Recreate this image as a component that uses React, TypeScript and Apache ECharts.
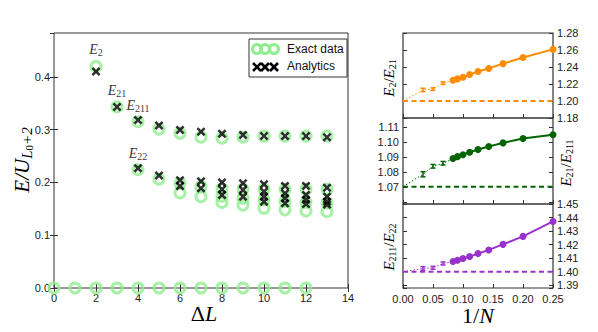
import React, { useEffect, useRef } from 'react';
import * as echarts from 'echarts';

// ---------- Left panel data (E / U_{L0+2} vs ΔL) ----------
const dLZero = [0, 1, 2, 3, 4, 5, 6, 7, 8, 9, 10, 11, 12];
const exactZero = [0, 0, 0, 0, 0, 0, 0, 0, 0, 0, 0, 0, 0];

const dLUpper = [2, 3, 4, 5, 6, 7, 8, 9, 10, 11, 12, 13];
const exactUpper = [0.42, 0.343, 0.315, 0.301, 0.293, 0.2856, 0.2837, 0.2856, 0.2877, 0.2877, 0.2877, 0.2877];
const analyticUpper = [0.41, 0.343, 0.318, 0.3077, 0.2995, 0.296, 0.292, 0.29, 0.288, 0.2877, 0.2877, 0.2856];

const dLLowerA = [4, 5, 6, 7, 8, 9, 10, 11, 12, 13];
const exactLowerA = [0.224, 0.206, 0.198, 0.192, 0.188, 0.187, 0.187, 0.187, 0.187, 0.187];
const analyticLowerA = [0.227, 0.213, 0.204, 0.202, 0.2, 0.1985, 0.1966, 0.1934, 0.1934, 0.19];

const dLLowerB = [6, 7, 8, 9, 10, 11, 12, 13];
const exactLowerB = [0.18, 0.173, 0.174, 0.17, 0.167, 0.164, 0.162, 0.161];
const analyticLowerB = [0.193, 0.189, 0.187, 0.1858, 0.1826, 0.1795, 0.1763, 0.173];

const dLLowerC = [8, 9, 10, 11, 12, 13];
const exactLowerC = [0.162, 0.157, 0.151, 0.148, 0.146, 0.1445];
const analyticLowerC = [0.1763, 0.173, 0.173, 0.17, 0.167, 0.1636];

const dLLowerD = [10, 11, 12, 13];
const analyticLowerD = [0.1636, 0.1605, 0.159, 0.158];

const upperLabels: Record<number, string> = { 2: '2', 3: '21', 4: '211' };
const lowerLabels: Record<number, string> = { 4: '22' };

// ---------- Right panels data (ratios vs 1/N) ----------
const invNErr = [0.0333, 0.05, 0.0667];
const invNSolid = [0.0833, 0.0909, 0.1, 0.1111, 0.125, 0.1429, 0.1667, 0.2, 0.25];

const r2_21Err = [1.213, 1.214, 1.221];
const r2_21ErrSize = [0.002, 0.0015, 0.0015];
const r2_21 = [1.2244, 1.226, 1.228, 1.2311, 1.2347, 1.2383, 1.244, 1.2511, 1.2607];
const r2_21Limit = 1.2;

const r21_211Err = [1.0787, 1.084, 1.086];
const r21_211ErrSize = [0.0017, 0.0012, 0.0012];
const r21_211 = [1.0891, 1.0904, 1.0917, 1.0933, 1.0951, 1.0971, 1.0995, 1.1024, 1.1049];
const r21_211Limit = 1.0705;

const r211_22Err = [1.4024, 1.4029, 1.4061];
const r211_22ErrSize = [0.0013, 0.0011, 0.0011];
const r211_22 = [1.4076, 1.4085, 1.4098, 1.4112, 1.4134, 1.4161, 1.4202, 1.4261, 1.4371];
const r211_22Limit = 1.4;

const SANS = '"Liberation Sans", Arial, sans-serif';
const SERIF = '"Liberation Serif", "DejaVu Serif", serif';
const AXIS_COLOR = '#333';
const LIGHT_GREEN = '#90ee90';
const X_PATH = 'path://M0,2L2,0L5,3L8,0L10,2L7,5L10,8L8,10L5,7L2,10L0,8L3,5Z';

const subRich = (main: number, sub: number) => ({
  e: { fontFamily: SERIF, fontStyle: 'italic', fontSize: main, lineHeight: main + 2, color: '#000' },
  s: { fontFamily: SERIF, fontSize: sub, lineHeight: sub - 2, verticalAlign: 'bottom', color: '#000' },
  o: { fontFamily: SERIF, fontSize: main, lineHeight: main + 2, color: '#000' },
});

function App() {
  const ref = useRef<HTMLDivElement>(null);
  useEffect(() => {
    if (!ref.current) return;
    const chart = echarts.init(ref.current, null, { renderer: 'svg' });

    const tickStyle = { inside: true, length: 4, lineStyle: { color: AXIS_COLOR, width: 1 } };
    const labelStyle = { fontFamily: SANS, fontSize: 11, color: '#222' };

    const makeLabelItem = (x: number, y: number, lbl?: string) =>
      lbl
        ? {
            value: [x, y],
            label: {
              show: true,
              position: 'top',
              distance: 2,
              formatter: `{e|E}{s|${lbl}}`,
              rich: subRich(14, 10),
            },
          }
        : { value: [x, y] };

    const exactStyle = {
      type: 'scatter',
      xAxisIndex: 0,
      yAxisIndex: 0,
      symbol: 'circle',
      symbolSize: 10,
      itemStyle: { color: 'rgba(0,0,0,0)', borderColor: LIGHT_GREEN, borderWidth: 3 },
      z: 2,
    };
    const analyticStyle = {
      type: 'scatter',
      xAxisIndex: 0,
      yAxisIndex: 0,
      symbol: X_PATH,
      symbolSize: 9,
      itemStyle: { color: '#000' },
      z: 3,
    };

    const leftSeries: any[] = [
      { ...exactStyle, data: dLZero.map((x, i) => [x, exactZero[i]]) },
      { ...exactStyle, data: dLUpper.map((x, i) => makeLabelItem(x, exactUpper[i], upperLabels[x])) },
      { ...exactStyle, data: dLLowerA.map((x, i) => makeLabelItem(x, exactLowerA[i], lowerLabels[x])) },
      { ...exactStyle, data: dLLowerB.map((x, i) => [x, exactLowerB[i]]) },
      { ...exactStyle, data: dLLowerC.map((x, i) => [x, exactLowerC[i]]) },
      { ...analyticStyle, data: dLUpper.map((x, i) => [x, analyticUpper[i]]) },
      { ...analyticStyle, data: dLLowerA.map((x, i) => [x, analyticLowerA[i]]) },
      { ...analyticStyle, data: dLLowerB.map((x, i) => [x, analyticLowerB[i]]) },
      { ...analyticStyle, data: dLLowerC.map((x, i) => [x, analyticLowerC[i]]) },
      { ...analyticStyle, data: dLLowerD.map((x, i) => [x, analyticLowerD[i]]) },
    ];

    const panels = [
      { color: '#ff8c00', limit: r2_21Limit, err: r2_21Err, errSize: r2_21ErrSize, solid: r2_21, xIdx: 2, yIdx: 2 },
      { color: '#006400', limit: r21_211Limit, err: r21_211Err, errSize: r21_211ErrSize, solid: r21_211, xIdx: 3, yIdx: 4 },
      { color: '#9932cc', limit: r211_22Limit, err: r211_22Err, errSize: r211_22ErrSize, solid: r211_22, xIdx: 4, yIdx: 6 },
    ];

    const rightSeries: any[] = [];
    panels.forEach((p) => {
      rightSeries.push({
        type: 'line',
        xAxisIndex: p.xIdx,
        yAxisIndex: p.yIdx,
        data: [[0, p.limit], [0.25, p.limit]],
        symbol: 'none',
        lineStyle: { color: p.color, width: 2, type: [5, 3.5] },
        z: 1,
      });
      rightSeries.push({
        type: 'line',
        xAxisIndex: p.xIdx,
        yAxisIndex: p.yIdx,
        data: [[0, p.limit], ...invNErr.map((x, i) => [x, p.err[i]]), [invNSolid[0], p.solid[0]]],
        symbol: 'none',
        lineStyle: { color: p.color, width: 1, type: [1.5, 2] },
        z: 1,
      });
      rightSeries.push({
        type: 'custom',
        xAxisIndex: p.xIdx,
        yAxisIndex: p.yIdx,
        data: invNErr.map((x, i) => [x, p.err[i], p.errSize[i]]),
        renderItem: (params: any, api: any) => {
          const x = api.value(0);
          const y = api.value(1);
          const e = api.value(2);
          const top = api.coord([x, y + e]);
          const bot = api.coord([x, y - e]);
          const cx = top[0];
          const st = { stroke: p.color, lineWidth: 1.5 };
          return {
            type: 'group',
            children: [
              { type: 'line', shape: { x1: cx, y1: top[1], x2: cx, y2: bot[1] }, style: st },
              { type: 'line', shape: { x1: cx - 2.5, y1: top[1], x2: cx + 2.5, y2: top[1] }, style: st },
              { type: 'line', shape: { x1: cx - 2.5, y1: bot[1], x2: cx + 2.5, y2: bot[1] }, style: st },
            ],
          };
        },
        z: 2,
      });
      rightSeries.push({
        type: 'line',
        xAxisIndex: p.xIdx,
        yAxisIndex: p.yIdx,
        data: invNSolid.map((x, i) => [x, p.solid[i]]),
        symbol: 'circle',
        symbolSize: 7,
        showSymbol: true,
        itemStyle: { color: p.color },
        lineStyle: { color: p.color, width: 2 },
        z: 3,
      });
    });

    const rightX = (gridIndex: number, showLabel: boolean) => ({
      gridIndex,
      type: 'value',
      min: 0,
      max: 0.25,
      interval: 0.05,
      axisLine: { show: false },
      axisTick: tickStyle,
      splitLine: { show: false },
      axisLabel: { show: showLabel, ...labelStyle, margin: 5, formatter: (v: number) => v.toFixed(2) },
    });

    const rightY = (
      gridIndex: number,
      position: string,
      showLabel: boolean,
      min: number,
      max: number,
      interval: number | undefined,
      lo: number,
      hi: number
    ) => ({
      gridIndex,
      type: 'value',
      position,
      min,
      max,
      ...(interval ? { interval } : { splitNumber: 6 }),
      scale: true,
      axisLine: { show: false },
      axisTick: tickStyle,
      splitLine: { show: false },
      axisLabel: {
        show: showLabel,
        ...labelStyle,
        margin: 4,
        formatter: (v: number) => (v >= lo && v <= hi ? v.toFixed(2) : ''),
      },
    });

    const option: any = {
      animation: false,
      grid: [
        { left: 54, top: 33, width: 294, height: 255, show: true, borderColor: AXIS_COLOR, borderWidth: 1 },
        { left: 403, top: 33, width: 150, height: 85, show: true, borderColor: AXIS_COLOR, borderWidth: 1.2 },
        { left: 403, top: 118, width: 150, height: 86, show: true, borderColor: AXIS_COLOR, borderWidth: 1.2 },
        { left: 403, top: 204, width: 150, height: 84, show: true, borderColor: AXIS_COLOR, borderWidth: 1.2 },
      ],
      xAxis: [
        {
          gridIndex: 0,
          type: 'value',
          min: 0,
          max: 14,
          interval: 2,
          axisLine: { show: false },
          axisTick: tickStyle,
          splitLine: { show: false },
          axisLabel: { ...labelStyle, margin: 4 },
        },
        {
          gridIndex: 0,
          type: 'value',
          position: 'top',
          min: 0,
          max: 14,
          interval: 2,
          axisLine: { show: false },
          axisTick: tickStyle,
          splitLine: { show: false },
          axisLabel: { show: false },
        },
        rightX(1, false),
        rightX(2, false),
        rightX(3, true),
      ],
      yAxis: [
        {
          gridIndex: 0,
          type: 'value',
          min: 0,
          max: 0.483,
          interval: 0.1,
          axisLine: { show: false },
          axisTick: tickStyle,
          splitLine: { show: false },
          axisLabel: { ...labelStyle, margin: 4, showMaxLabel: false, formatter: (v: number) => v.toFixed(1) },
        },
        {
          gridIndex: 0,
          type: 'value',
          position: 'right',
          min: 0,
          max: 0.483,
          interval: 0.1,
          axisLine: { show: false },
          axisTick: tickStyle,
          splitLine: { show: false },
          axisLabel: { show: false },
        },
        rightY(1, 'left', false, 1.18, 1.28, 0.02, 1.17, 1.29),
        rightY(1, 'right', true, 1.18, 1.28, 0.02, 1.17, 1.29),
        rightY(2, 'left', true, 1.059, 1.116, undefined, 1.065, 1.1105),
        rightY(2, 'right', false, 1.059, 1.116, undefined, 1.065, 1.1105),
        rightY(3, 'left', false, 1.388, 1.45, undefined, 1.3895, 1.4505),
        rightY(3, 'right', true, 1.388, 1.45, undefined, 1.3895, 1.4505),
      ],
      series: [...leftSeries, ...rightSeries],
      graphic: [
        // axis titles
        {
          type: 'text',
          x: 22,
          y: 160,
          rotation: Math.PI / 2,
          style: {
            text: '{e|E/U}{s|L}{t|0}{s|+2}',
            align: 'center',
            verticalAlign: 'middle',
            rich: {
              e: { fontFamily: SERIF, fontStyle: 'italic', fontSize: 21, lineHeight: 24, color: '#000' },
              s: { fontFamily: SERIF, fontStyle: 'italic', fontSize: 15, lineHeight: 14, verticalAlign: 'bottom', color: '#000' },
              t: { fontFamily: SERIF, fontSize: 11, lineHeight: 8, verticalAlign: 'bottom', color: '#000' },
            },
          },
        },
        {
          type: 'text',
          x: 204,
          y: 313,
          style: {
            text: '{o|Δ}{e|L}',
            align: 'center',
            verticalAlign: 'middle',
            rich: {
              o: { fontFamily: SERIF, fontSize: 22, color: '#000' },
              e: { fontFamily: SERIF, fontStyle: 'italic', fontSize: 22, color: '#000' },
            },
          },
        },
        {
          type: 'text',
          x: 478,
          y: 315,
          style: {
            text: '{o|1/}{e|N}',
            align: 'center',
            verticalAlign: 'middle',
            rich: {
              o: { fontFamily: SERIF, fontSize: 22, color: '#000' },
              e: { fontFamily: SERIF, fontStyle: 'italic', fontSize: 22, color: '#000' },
            },
          },
        },
        {
          type: 'text',
          x: 389,
          y: 78,
          rotation: Math.PI / 2,
          style: {
            text: '{e|E}{s|2}{o|/}{e|E}{s|21}',
            align: 'center',
            verticalAlign: 'middle',
            rich: subRich(15, 10),
          },
        },
        {
          type: 'text',
          x: 566,
          y: 163,
          rotation: Math.PI / 2,
          style: {
            text: '{e|E}{s|21}{o|/}{e|E}{s|211}',
            align: 'center',
            verticalAlign: 'middle',
            rich: subRich(15, 10),
          },
        },
        {
          type: 'text',
          x: 389,
          y: 247,
          rotation: Math.PI / 2,
          style: {
            text: '{e|E}{s|211}{o|/}{e|E}{s|22}',
            align: 'center',
            verticalAlign: 'middle',
            rich: subRich(15, 10),
          },
        },
        // legend
        {
          type: 'rect',
          shape: { x: 249, y: 39, width: 98, height: 38 },
          style: { fill: '#fff', stroke: AXIS_COLOR, lineWidth: 1 },
          z: 10,
        },
        ...[257, 265, 274].map((cx) => ({
          type: 'circle',
          shape: { cx, cy: 49, r: 4.5 },
          style: { fill: 'none', stroke: LIGHT_GREEN, lineWidth: 3 },
          z: 11,
        })),
        ...[257, 265, 274].flatMap((cx) => [
          {
            type: 'line',
            shape: { x1: cx - 4, y1: 63, x2: cx + 4, y2: 71 },
            style: { stroke: '#000', lineWidth: 2.6 },
            z: 11,
          },
          {
            type: 'line',
            shape: { x1: cx - 4, y1: 71, x2: cx + 4, y2: 63 },
            style: { stroke: '#000', lineWidth: 2.6 },
            z: 11,
          },
        ]),
        {
          type: 'text',
          x: 287,
          y: 49,
          style: { text: 'Exact data', fontFamily: SANS, fontSize: 12, fill: '#111', verticalAlign: 'middle' },
          z: 11,
        },
        {
          type: 'text',
          x: 287,
          y: 66,
          style: { text: 'Analytics', fontFamily: SANS, fontSize: 12, fill: '#111', verticalAlign: 'middle' },
          z: 11,
        },
      ],
    };

    chart.setOption(option);
    return () => chart.dispose();
  }, []);

  return (
    <div
      ref={ref}
      style={{ position: 'fixed', left: 0, top: 0, width: 598, height: 332, background: '#fff' }}
    />
  );
}

export default App;
